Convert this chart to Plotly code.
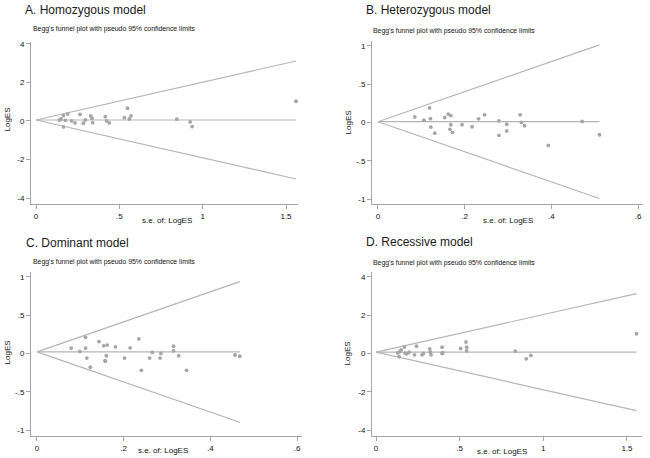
import plotly.graph_objects as go

W, H = 650, 458

# ---------------- data ----------------
panel_titles = ["A. Homozygous model", "B. Heterozygous model", "C. Dominant model", "D. Recessive model"]
subtitle = "Begg's funnel plot with pseudo 95% confidence limits"
x_title = "s.e. of: LogES"
y_title = "LogES"

a_se = [0.14, 0.15, 0.165, 0.165, 0.176, 0.19, 0.214, 0.234, 0.264, 0.284, 0.296, 0.328, 0.336, 0.34,
        0.416, 0.424, 0.44, 0.53, 0.549, 0.56, 0.57, 0.845, 0.925, 0.937, 1.56]
a_es = [0.05, 0.10, 0.28, -0.31, 0.03, 0.36, 0.0, -0.10, 0.34, -0.12, 0.05, 0.26, 0.14, -0.09,
        0.22, 0.0, -0.10, 0.17, 0.66, 0.10, 0.26, 0.09, -0.05, -0.29, 1.02]
a_theta, a_semax = 0.05, 1.56

b_se = [0.085, 0.106, 0.119, 0.121, 0.122, 0.131, 0.154, 0.162, 0.166, 0.168, 0.168, 0.172, 0.194,
        0.217, 0.232, 0.246, 0.279, 0.279, 0.297, 0.297, 0.328, 0.331, 0.338, 0.393, 0.471, 0.511]
b_es = [0.073, 0.03, 0.19, 0.05, -0.06, -0.14, 0.065, 0.11, -0.09, 0.09, -0.03, -0.13, -0.03,
        -0.056, 0.047, 0.10, 0.02, -0.168, -0.022, -0.11, 0.10, 0.0, -0.043, -0.30, 0.013, -0.16]
b_theta, b_semax = 0.01, 0.511

c_se = [0.079, 0.099, 0.112, 0.112, 0.115, 0.123, 0.143, 0.154, 0.157, 0.158, 0.16, 0.162, 0.181,
        0.202, 0.215, 0.235, 0.241, 0.26, 0.266, 0.284, 0.286, 0.315, 0.315, 0.327, 0.345, 0.457, 0.468]
c_es = [0.07, 0.026, 0.21, 0.07, -0.06, -0.18, 0.155, 0.10, -0.095, -0.10, -0.03, 0.11, 0.086,
        -0.06, 0.073, 0.19, -0.22, -0.06, 0.013, -0.06, 0.0, 0.095, 0.034, -0.03, -0.22, -0.02, -0.035]
c_theta, c_semax = 0.02, 0.468

d_se = [0.13, 0.138, 0.142, 0.15, 0.17, 0.174, 0.184, 0.198, 0.23, 0.242, 0.275, 0.283, 0.321, 0.325,
        0.329, 0.395, 0.395, 0.399, 0.506, 0.538, 0.542, 0.542, 0.832, 0.898, 0.926, 1.557]
d_es = [0.03, -0.17, 0.10, 0.19, 0.34, 0.02, -0.02, 0.07, -0.07, 0.38, -0.07, 0.0, 0.24, 0.07,
        -0.07, 0.33, 0.0, 0.03, 0.26, 0.60, 0.33, 0.14, 0.12, -0.28, -0.10, 1.03]
d_theta, d_semax = 0.07, 1.557

z_crit = 1.96

big_xticks = [0, 0.5, 1, 1.5]
big_xtext = ["0", ".5", "1", "1.5"]
big_yticks = [-4, -2, 0, 2, 4]
big_ytext = ["-4", "-2", "0", "2", "4"]
small_xticks = [0, 0.2, 0.4, 0.6]
small_xtext = ["0", ".2", ".4", ".6"]
small_yticks = [-1, -0.5, 0, 0.5, 1]
small_ytext = ["-1", "-.5", "0", ".5", "1"]

# ---------------- layout geometry (pixels) ----------------
panels = [
    dict(se=a_se, es=a_es, theta=a_theta, semax=a_semax, box=(31, 298, 40, 203),
         xr=[-0.030, 1.572], yr=[-4.31, 4.10], xt=(big_xticks, big_xtext), yt=(big_yticks, big_ytext),
         title=(23, 8), sub=(31, 27), ytl=(7, 118), xtl=(167, 219)),
    dict(se=b_se, es=b_es, theta=b_theta, semax=b_semax, box=(372, 643, 39, 203),
         xr=[-0.0138, 0.6115], yr=[-1.065, 1.065], xt=(small_xticks, small_xtext), yt=(small_yticks, small_ytext),
         title=(364, 8), sub=(371, 29), ytl=(348, 121), xtl=(508, 219)),
    dict(se=c_se, es=c_es, theta=c_theta, semax=c_semax, box=(31, 302, 271, 436),
         xr=[-0.0138, 0.6115], yr=[-1.078, 1.065], xt=(small_xticks, small_xtext), yt=(small_yticks, small_ytext),
         title=(24, 242), sub=(31, 261), ytl=(7, 352), xtl=(163, 450)),
    dict(se=d_se, es=d_es, theta=d_theta, semax=d_semax, box=(372, 642, 271, 436),
         xr=[-0.024, 1.59], yr=[-4.31, 4.26], xt=(big_xticks, big_xtext), yt=(big_yticks, big_ytext),
         title=(364, 241), sub=(371, 262), ytl=(347, 353), xtl=(502, 451)),
]

FONT = "Liberation Sans, Arial, sans-serif"
AXIS_COL = "#a6a6a6"
FUNNEL_COL = "#b5b5b5"
PT_COL = "#a6a6a6"

fig = go.Figure()
annotations = []
layout_axes = {}

for i, p in enumerate(panels):
    n = "" if i == 0 else str(i + 1)
    xa, ya = "x" + n, "y" + n
    th, sm = p["theta"], p["semax"]
    for yend in (th + z_crit * sm, th - z_crit * sm, th):
        fig.add_trace(go.Scatter(x=[0, sm], y=[th, yend], mode="lines",
                                 line=dict(color=FUNNEL_COL, width=1.2), xaxis=xa, yaxis=ya,
                                 showlegend=False, hoverinfo="skip"))
    fig.add_trace(go.Scatter(x=p["se"], y=p["es"], mode="markers",
                             marker=dict(color=PT_COL, size=3.8, symbol="circle"),
                             xaxis=xa, yaxis=ya, showlegend=False))

    x0, x1, yt0, yb = p["box"]
    common = dict(showline=True, linecolor=AXIS_COL, linewidth=1, ticks="outside", ticklen=4,
                  tickwidth=1, tickcolor=AXIS_COL, showgrid=False, zeroline=False,
                  tickfont=dict(family=FONT, size=8, color="#111111"), fixedrange=True)
    layout_axes["xaxis" + n] = dict(common, domain=[x0 / W, x1 / W], range=p["xr"], anchor=ya,
                                    tickvals=p["xt"][0], ticktext=p["xt"][1])
    layout_axes["yaxis" + n] = dict(common, domain=[1 - yb / H, 1 - yt0 / H], range=p["yr"], anchor=xa,
                                    tickvals=p["yt"][0], ticktext=p["yt"][1])

    tx, ty = p["title"]
    annotations.append(dict(text=panel_titles[i], x=tx / W, y=1 - ty / H, xref="paper", yref="paper",
                            xanchor="left", yanchor="middle", showarrow=False,
                            font=dict(family=FONT, size=12, color="#1a1a1a")))
    sx, sy = p["sub"]
    annotations.append(dict(text=subtitle, x=sx / W, y=1 - sy / H, xref="paper", yref="paper",
                            xanchor="left", yanchor="middle", showarrow=False,
                            font=dict(family=FONT, size=6.9, color="#111111")))
    yx, yy = p["ytl"]
    annotations.append(dict(text=y_title, x=yx / W, y=1 - yy / H, xref="paper", yref="paper",
                            xanchor="center", yanchor="middle", showarrow=False, textangle=-90,
                            font=dict(family=FONT, size=8, color="#111111")))
    xx, xy = p["xtl"]
    annotations.append(dict(text=x_title, x=xx / W, y=1 - xy / H, xref="paper", yref="paper",
                            xanchor="center", yanchor="middle", showarrow=False,
                            font=dict(family=FONT, size=8, color="#111111")))

fig.update_layout(width=W, height=H, margin=dict(l=0, r=0, t=0, b=0),
                  paper_bgcolor="white", plot_bgcolor="white", hovermode=False,
                  annotations=annotations, **layout_axes)

fig.write_html("out.html", config={"displayModeBar": False, "staticPlot": True},
               post_script="document.body.style.margin='0';document.body.style.overflow='hidden';")
